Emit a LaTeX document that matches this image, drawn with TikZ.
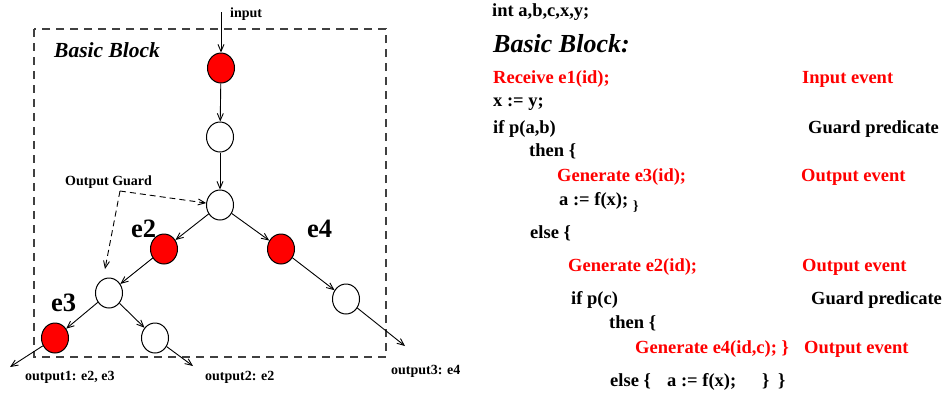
\documentclass[tikz,border=0pt]{standalone}
\usepackage{fontspec}
\setmainfont{Liberation Serif}
\usetikzlibrary{arrows.meta,shapes.geometric}
\definecolor{evred}{RGB}{255,0,0}
\begin{document}
\begin{tikzpicture}[x=1pt,y=-1pt,
  state/.style={ellipse,draw=black,line width=1pt,minimum width=27pt,minimum height=30pt,inner sep=0pt,fill=white},
  event/.style={state,fill=evred},
  flow/.style={line width=0.9pt,-{Straight Barb[length=7pt,width=6pt]}},
  guard/.style={line width=0.9pt,dash pattern=on 6pt off 4pt,-{Straight Barb[length=7pt,width=6pt]}},
  blockbox/.style={draw=black!75,line width=1.1pt,dash pattern=on 8pt off 6pt},
  small/.style={font=\bfseries\fontsize{14}{16}\selectfont,anchor=base west,inner sep=0pt},
  evlabel/.style={font=\bfseries\fontsize{26.5}{28}\selectfont,anchor=base west,inner sep=0pt},
  code/.style={font=\bfseries\fontsize{18.5}{20}\selectfont,anchor=base west,inner sep=0pt},
  redcode/.style={code,text=evred}]
\useasboundingbox (0,0) rectangle (951,392);

% dashed basic block frame
\draw[blockbox] (34,29) rectangle (386,357);

% states of the basic block
\node[event] (n1) at (221,68) {};
\node[state] (n2) at (220,137) {};
\node[state] (n3) at (220,205) {};
\node[event] (e2n) at (164,249) {};
\node[event] (e4n) at (281,249) {};
\node[state] (n6) at (109,293) {};
\node[event] (e3n) at (55,338) {};
\node[state] (n8) at (155,338) {};
\node[state] (n9) at (346,299) {};

% free ends of the input and output edges
\coordinate (in) at (221,12);
\coordinate (out1) at (10,367);
\coordinate (out2) at (193,366);
\coordinate (out3) at (405,346);
\coordinate (gc) at (120,191);

% control-flow edges
\draw[flow] (in) -- (n1);
\draw[flow] (n1) -- (n2);
\draw[flow] (n2) -- (n3);
\draw[flow] (n3) -- (e2n);
\draw[flow] (n3) -- (e4n);
\draw[flow] (e2n) -- (n6);
\draw[flow] (e4n) -- (n9);
\draw[flow] (n6) -- (e3n);
\draw[flow] (n6) -- (n8);
\draw[flow] (e3n) -- (out1);
\draw[flow] (n8) -- (out2);
\draw[flow] (n9) -- (out3);

% output guard pointers
\draw[guard] (gc) -- (n3);
\draw[guard] (gc) -- (105,269);

% labels of the graph
\node[small] (lin) at (230,17) {input};
\node[font=\bfseries\itshape\fontsize{21.5}{24}\selectfont,anchor=base west,inner sep=0pt] (lbb) at (54,57) {Basic Block};
\node[small] (lguard) at (65,185) {Output Guard};
\node[evlabel] (le2) at (131,237) {e2};
\node[evlabel] (le4) at (307,237) {e4};
\node[evlabel] (le3) at (51,311) {e3};
\node[small] (lo1) at (25,380) {output1: e2, e3};
\node[small] (lo2) at (205,380) {output2: e2};
\node[small] (lo3) at (391,374) {output3: e4};

% source code of the block
\node[code] (c1) at (492,16) {int a,b,c,x,y;};
\node[font=\bfseries\itshape\fontsize{26}{28}\selectfont,anchor=base west,inner sep=0pt] (c2) at (493,52) {Basic Block:};
\node[redcode] (c3) at (493,83) {Receive e1(id);};
\node[redcode] (k3) at (802,83) {Input event};
\node[code] (c4) at (493,106) {x := y;};
\node[code] (c5) at (493,133) {if p(a,b)};
\node[code] (k5) at (808,133) {Guard predicate};
\node[code] (c6) at (529,156) {then \{};
\node[redcode] (c7) at (557,181) {Generate e3(id);};
\node[redcode] (k7) at (801,181) {Output event};
\node[code] (c8) at (559,205) {a := f(x);};
\node[font=\bfseries\fontsize{14}{16}\selectfont,anchor=base west,inner sep=0pt] (c8b) at (633,210) {\}};
\node[code] (c9) at (530,238) {else \{};
\node[redcode] (c10) at (568,271) {Generate e2(id);};
\node[redcode] (k10) at (802,271) {Output event};
\node[code] (c11) at (571,304) {if p(c)};
\node[code] (k11) at (811,304) {Guard predicate};
\node[code] (c12) at (609,328) {then \{};
\node[redcode] (c13) at (635,353) {Generate e4(id,c); \}};
\node[redcode] (k13) at (804,353) {Output event};
\node[code] (c14) at (610,386) {else \{};
\node[code] (c14b) at (667,386) {a := f(x);};
\node[code] (c14c) at (762,386) {\}};
\node[code] (c14d) at (778,386) {\}};
\end{tikzpicture}
\end{document}
